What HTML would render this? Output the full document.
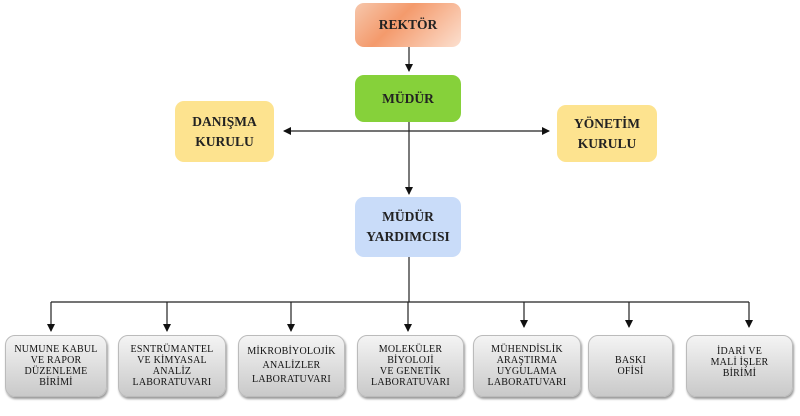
<!DOCTYPE html>
<html><head><meta charset="utf-8"><style>
body{margin:0;width:800px;height:416px;background:#fff;position:relative;overflow:hidden;font-family:"Liberation Serif",serif;}
.b{position:absolute;display:flex;align-items:center;justify-content:center;text-align:center;border-radius:9px;font-weight:bold;color:#222;box-sizing:border-box;}
.t{font-size:13.5px;line-height:20px;}
.g{background:linear-gradient(#f4f4f4,#c9c9c9);border:1px solid #bbb;box-shadow:1px 2px 2px #999;font-size:10px;letter-spacing:0.2px;line-height:11px;font-weight:normal;color:#111;border-radius:10px;}
</style></head><body>
<svg width="800" height="416" style="position:absolute;left:0;top:0">
<defs><marker id="a" markerWidth="8" markerHeight="8" refX="7" refY="4" orient="auto" markerUnits="userSpaceOnUse"><path d="M0,0 L8,4 L0,8z" fill="#111"/></marker></defs>
<g stroke="#222" stroke-width="1.2" fill="none">
<line x1="409" y1="47" x2="409" y2="71" marker-end="url(#a)"/>
<line x1="409" y1="122" x2="409" y2="194" marker-end="url(#a)"/>
<line x1="409" y1="131" x2="284" y2="131" marker-end="url(#a)"/>
<line x1="409" y1="131" x2="549" y2="131" marker-end="url(#a)"/>
<line x1="409" y1="257" x2="409" y2="302"/>
<line x1="51" y1="302" x2="749" y2="302"/>
<line x1="51" y1="302" x2="51" y2="331" marker-end="url(#a)"/>
<line x1="167" y1="302" x2="167" y2="331" marker-end="url(#a)"/>
<line x1="291" y1="302" x2="291" y2="331" marker-end="url(#a)"/>
<line x1="408" y1="302" x2="408" y2="331" marker-end="url(#a)"/>
<line x1="524" y1="302" x2="524" y2="327" marker-end="url(#a)"/>
<line x1="629" y1="302" x2="629" y2="327" marker-end="url(#a)"/>
<line x1="749" y1="302" x2="749" y2="327" marker-end="url(#a)"/>
</g></svg>
<div class="b t" style="left:355px;top:3px;width:106px;height:44px;background:linear-gradient(135deg,#f6c7ac,#f49a6c 40%,#fce0d0);">REKTÖR</div>
<div class="b t" style="left:355px;top:75px;width:106px;height:47px;background:#86d13a;">MÜDÜR</div>
<div class="b t" style="left:175px;top:101px;width:99px;height:61px;background:#fde38f;">DANIŞMA<br>KURULU</div>
<div class="b t" style="left:557px;top:105px;width:100px;height:57px;background:#fde38f;">YÖNETİM<br>KURULU</div>
<div class="b t" style="left:355px;top:197px;width:106px;height:60px;background:#c9dcf9;">MÜDÜR<br>YARDIMCISI</div>
<div class="b g" style="left:5px;top:335px;width:102px;height:62px;">NUMUNE KABUL<br>VE RAPOR<br>DÜZENLEME<br>BİRİMİ</div>
<div class="b g" style="left:118px;top:335px;width:108px;height:62px;">ESNTRÜMANTEL<br>VE KİMYASAL<br>ANALİZ<br>LABORATUVARI</div>
<div class="b g" style="left:238px;top:335px;width:107px;height:62px;line-height:14px;">MİKROBİYOLOJİK<br>ANALİZLER<br>LABORATUVARI</div>
<div class="b g" style="left:357px;top:335px;width:107px;height:62px;">MOLEKÜLER<br>BİYOLOJİ<br>VE GENETİK<br>LABORATUVARI</div>
<div class="b g" style="left:473px;top:335px;width:108px;height:62px;">MÜHENDİSLİK<br>ARAŞTIRMA<br>UYGULAMA<br>LABORATUVARI</div>
<div class="b g" style="left:588px;top:335px;width:85px;height:62px;">BASKI<br>OFİSİ</div>
<div class="b g" style="left:686px;top:335px;width:107px;height:62px;align-items:flex-start;padding-top:10px;">İDARİ VE<br>MALİ İŞLER<br>BİRİMİ</div>
</body></html>
